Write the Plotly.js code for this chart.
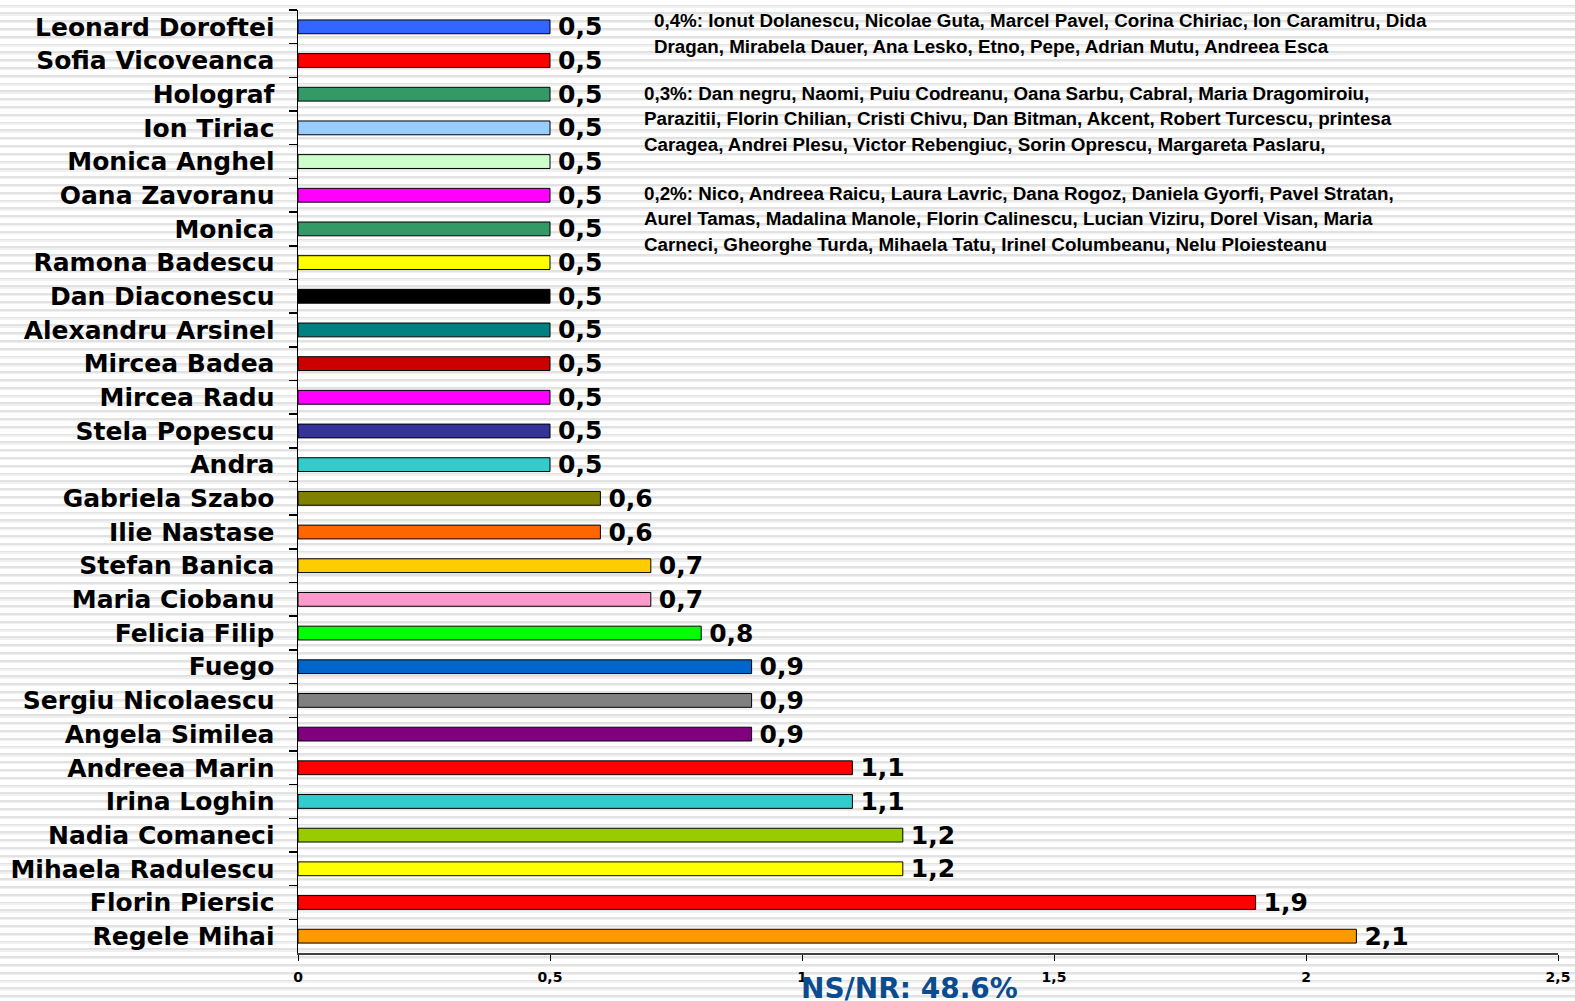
<!DOCTYPE html>
<html>
<head>
<meta charset="utf-8">
<script src="https://cdn.plot.ly/plotly-3.0.1.min.js"></script>
<style>
  html, body { margin: 0; padding: 0; width: 1575px; height: 1001px; overflow: hidden;
    background: repeating-linear-gradient(to bottom, #ffffff 0px, #ffffff 4.6px, #e2e2e2 4.6px, #e2e2e2 6.4px, #f0f0f0 6.4px, #f0f0f0 7.8px); }
  #chart { width: 1575px; height: 1001px; }
</style>
</head>
<body>
<div id="chart"></div>
<script>
const names = [
  "Leonard Doroftei", "Sofia Vicoveanca", "Holograf", "Ion Tiriac", "Monica Anghel",
  "Oana Zavoranu", "Monica", "Ramona Badescu", "Dan Diaconescu", "Alexandru Arsinel",
  "Mircea Badea", "Mircea Radu", "Stela Popescu", "Andra", "Gabriela Szabo",
  "Ilie Nastase", "Stefan Banica", "Maria Ciobanu", "Felicia Filip", "Fuego",
  "Sergiu Nicolaescu", "Angela Similea", "Andreea Marin", "Irina Loghin", "Nadia Comaneci",
  "Mihaela Radulescu", "Florin Piersic", "Regele Mihai"
];
const values = [
  0.5, 0.5, 0.5, 0.5, 0.5,
  0.5, 0.5, 0.5, 0.5, 0.5,
  0.5, 0.5, 0.5, 0.5, 0.6,
  0.6, 0.7, 0.7, 0.8, 0.9,
  0.9, 0.9, 1.1, 1.1, 1.2,
  1.2, 1.9, 2.1
];
const barColors = [
  "#3366FF", "#FF0000", "#339966", "#99CCFF", "#CCFFCC",
  "#FF00FF", "#339966", "#FFFF00", "#000000", "#008080",
  "#CC0000", "#FF00FF", "#333399", "#33CCCC", "#808000",
  "#FF6600", "#FFCC00", "#FF99CC", "#00FF00", "#0066CC",
  "#808080", "#800080", "#FF0000", "#33CCCC", "#99CC00",
  "#FFFF00", "#FF0000", "#FF9900"
];
const xTickVals = [0, 0.5, 1, 1.5, 2, 2.5];
const noteLines = [
  "0,4%: Ionut Dolanescu, Nicolae Guta, Marcel Pavel, Corina Chiriac, Ion Caramitru, Dida",
  "Dragan, Mirabela Dauer, Ana Lesko, Etno, Pepe, Adrian Mutu, Andreea Esca",
  "0,3%: Dan negru, Naomi, Puiu Codreanu, Oana Sarbu, Cabral, Maria Dragomiroiu,",
  "Parazitii, Florin Chilian, Cristi Chivu, Dan Bitman, Akcent, Robert Turcescu, printesa",
  "Caragea, Andrei Plesu, Victor Rebengiuc, Sorin Oprescu, Margareta Paslaru,",
  "0,2%: Nico, Andreea Raicu, Laura Lavric, Dana Rogoz, Daniela Gyorfi, Pavel Stratan,",
  "Aurel Tamas, Madalina Manole, Florin Calinescu, Lucian Viziru, Dorel Visan, Maria",
  "Carneci, Gheorghe Turda, Mihaela Tatu, Irinel Columbeanu, Nelu Ploiesteanu"
];
const footerText = "NS/NR: 48.6%";

// layout helpers (pixel geometry of the plot area)
const L = 298, R = 17, T = 10, B = 48, W = 1575, H = 1001;
const pw = W - L - R, ph = H - T - B;
const px2x = p => (p - L) / pw;
const py2y = p => (H - B - p) / ph;
const noteX = [652, 652, 642, 642, 642, 642, 642, 642];
const noteY = [21, 47, 93.4, 118.5, 144.6, 193.9, 219, 245];

const annotations = noteLines.map((t, i) => ({
  text: t, xref: 'paper', yref: 'paper', x: px2x(noteX[i]), y: py2y(noteY[i]),
  xanchor: 'left', yanchor: 'middle', showarrow: false, align: 'left',
  font: {family: 'Liberation Sans, Arial, sans-serif', size: 18.8, weight: 'bold', color: '#000'}
}));
annotations.push({
  text: footerText, xref: 'paper', yref: 'paper', x: px2x(909), y: py2y(988),
  xanchor: 'center', yanchor: 'middle', showarrow: false,
  font: {family: 'DejaVu Sans, Verdana, sans-serif', size: 28, weight: 'bold', color: '#0B4C8E'}
});

const trace = {
  type: 'bar', orientation: 'h',
  y: names, x: values,
  marker: {color: barColors, line: {color: '#000000', width: 1}},
  width: 0.41,
  texttemplate: '\u2009%{x:.1f}', textposition: 'outside', constraintext: 'none', cliponaxis: false,
  textfont: {family: 'DejaVu Sans, Verdana, sans-serif', size: 25, weight: 'bold', color: '#000'},
  hoverinfo: 'none'
};

const layout = {
  width: W, height: H,
  margin: {l: L, r: R, t: T, b: B, pad: 0},
  paper_bgcolor: 'rgba(0,0,0,0)', plot_bgcolor: 'rgba(0,0,0,0)',
  separators: ',.',
  showlegend: false,
  xaxis: {
    range: [0, 2.5], tickvals: xTickVals, ticks: 'outside', ticklen: 6, tickcolor: '#000', tickwidth: 1,
    showgrid: false, zeroline: false, showline: true, linecolor: '#404040', linewidth: 2,
    tickfont: {family: 'DejaVu Sans, Verdana, sans-serif', size: 14, weight: 'bold', color: '#000'},
    ticklabelstandoff: 4, fixedrange: true
  },
  yaxis: {
    type: 'category', autorange: 'reversed', tickson: 'boundaries', ticks: 'outside', ticklen: 8,
    tickcolor: '#000', tickwidth: 1.5, showline: true, linecolor: '#000', linewidth: 1.5,
    showgrid: false, zeroline: false, ticklabelstandoff: 17,
    tickfont: {family: 'DejaVu Sans, Verdana, sans-serif', size: 25, weight: 'bold', color: '#000'},
    fixedrange: true
  },
  annotations: annotations,
  bargap: 0.6
};

Plotly.newPlot('chart', [trace], layout, {displayModeBar: false, staticPlot: true});
</script>
</body>
</html>
